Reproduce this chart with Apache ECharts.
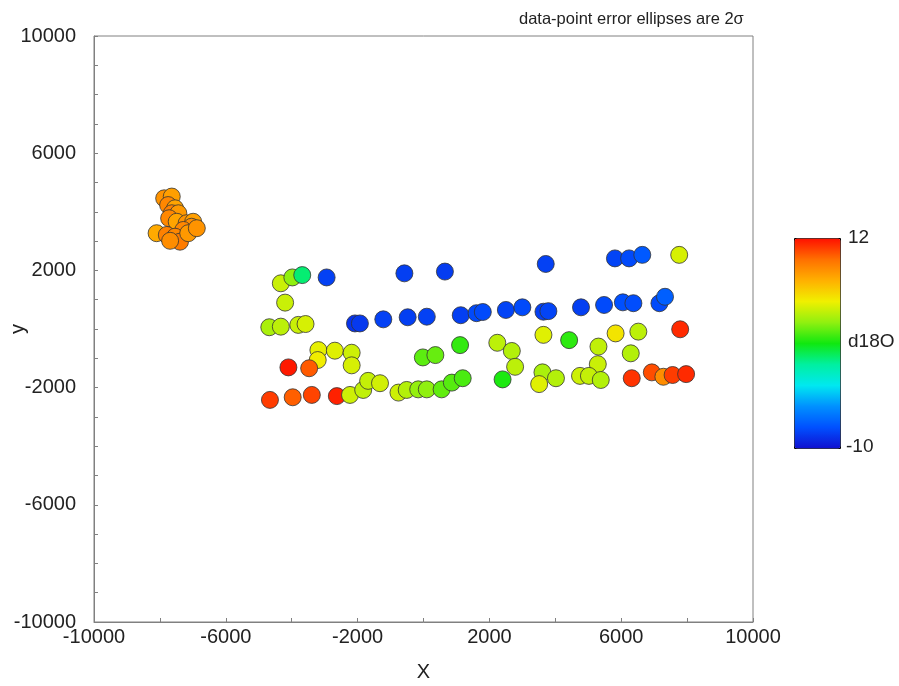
<!DOCTYPE html>
<html>
<head>
<meta charset="utf-8">
<script src="https://cdn.jsdelivr.net/npm/echarts@6/dist/echarts.min.js"></script>
<style>
  html, body { margin: 0; padding: 0; background: #fff; }
  #chart { width: 899px; height: 686px; }
</style>
</head>
<body>
<div id="chart"></div>
<script>
// x positions of the samples
var xVals = [
    -7870, -7640, -7750, -7540, -7640, -7440, -7720, -7490, -7190, -6990,
    -7040, -7290, -8100, -7790, -7540, -7390, -7690, -7140, -6880,
    -2940, -580, 650, 3710, 5810, 6240, 6640,
    -2080, -1930, -1220, -480, 100, 1130, 1610, 1800, 2500, 3000,
    3640, 3790, 4780, 5480, 6050, 6370, 7160, 7330,
    -4330, -3980, -3680, -4200, -4680, -4330, -3800, -3580, 7760,
    -3190, -2690, -2180, -3210, -2180, -4100, -3470, -20, 360, 1110,
    2240, 2680, 2780, 3640, 4420, 5830, 6520, 7790, 5310, 6290, 5290,
    -4660, -3970, -3390, -2630, -2230, -1830, -1680, -1320, -760, -510,
    -160, 100, 550, 860, 1190, 2400, 3610, 3510, 4020, 4750,
    5020, 5380, 6320, 6930, 7280, 7560, 7970
];
// y positions of the samples
var yVals = [
    4460, 4520, 4230, 4120, 3950, 3950, 3780, 3660, 3610, 3660,
    3490, 3380, 3270, 3210, 3150, 2980, 3010, 3270, 3440,
    1760, 1900, 1960, 2220, 2410, 2410, 2530,
    190, 190, 330, 400, 420, 470, 540, 580, 650, 740,
    590, 610, 740, 820, 910, 880, 880, 1100,
    1560, 1760, 1840, 900, 60, 80, 140, 170, 2530,
    -720, -740, -810, -1060, -1240, -1310, -1340, -970, -890, -550,
    -470, -750, -1290, -200, -380, -150, -90, -10, -600, -830, -1200,
    -2420, -2330, -2250, -2290, -2250, -2080, -1770, -1850, -2170, -2080,
    -2060, -2060, -2060, -1830, -1680, -1720, -1480, -1880, -1680, -1600,
    -1600, -1740, -1680, -1480, -1630, -1570, -1540
];
// d18O of the samples
var d18O = [
    8.6, 8.2, 9.0, 8.0, 9.2, 8.4, 9.0, 8.0, 8.6, 8.2,
    8.8, 9.0, 7.8, 9.2, 9.0, 9.4, 8.8, 8.4, 8.6,
    -8.3, -8.4, -8.5, -8.3, -8.2, -8.0, -7.5,
    -8.8, -8.6, -8.3, -8.4, -8.3, -8.4, -8.0, -8.0, -8.2, -8.0,
    -8.4, -8.2, -8.4, -8.0, -7.8, -7.9, -8.0, -7.3,
    4.5, 3.2, -0.5, 4.5, 3.8, 4.2, 4.5, 4.8, 4.8,
    5.2, 5.0, 4.6, 5.5, 4.8, 11.8, 10.3, 2.3, 2.5, 1.6,
    4.2, 4.0, 4.2, 5.0, 1.5, 5.8, 4.2, 11.4, 4.3, 4.0, 4.5,
    11.0, 10.2, 10.8, 11.6, 4.6, 4.3, 4.4, 4.7, 4.6, 4.0,
    3.3, 3.2, 2.4, 2.2, 2.0, 1.2, 3.8, 5.0, 4.0, 4.6,
    4.4, 4.0, 11.2, 10.6, 8.8, 11.0, 11.4
];
var colorStops = ['#1010d0', '#0050ff', '#0090ff', '#00e8f0', '#00f0a0', '#10e810',
                  '#90f010', '#f0f000', '#ffb000', '#ff7000', '#ff1000'];

(function(){
    var points = xVals.map(function (x, i) { return [x, yVals[i], d18O[i]]; });

    var onMajor = function (v) { return (v + 10000) % 4000 === 0 ? String(v) : ''; };
    var font = 'Liberation Sans, Arial, sans-serif';
    var labelFont = { color: '#222', fontSize: 20, fontFamily: font };

    var option = {
        animation: false,
        backgroundColor: '#fff',
        title: {
            text: 'data-point error ellipses are 2\u03c3',
            left: 514,
            top: 6,
            textStyle: { fontSize: 16.5, fontWeight: 'normal', color: '#222', fontFamily: font }
        },
        grid: {
            left: 94, top: 36, width: 659, height: 586,
            outerBoundsMode: 'none',
            containLabel: false,
            show: true, borderColor: '#808080', borderWidth: 1
        },
        xAxis: {
            type: 'value', min: -10000, max: 10000, interval: 2000,
            name: 'X', nameLocation: 'middle', nameGap: 40,
            nameMoveOverlap: false,
            nameTextStyle: { fontSize: 20, color: '#222', fontFamily: font },
            axisLine: { onZero: false, lineStyle: { color: '#808080' } },
            axisTick: { inside: true, length: 4, lineStyle: { color: '#808080' } },
            axisLabel: Object.assign({ formatter: onMajor, margin: 5 }, labelFont),
            splitLine: { show: false }
        },
        yAxis: {
            type: 'value', min: -10000, max: 10000, interval: 1000,
            name: 'y', nameLocation: 'middle', nameGap: 66,
            nameMoveOverlap: false,
            nameTextStyle: { fontSize: 20, color: '#222', fontFamily: font },
            axisLine: { onZero: false, lineStyle: { color: '#808080' } },
            axisTick: { inside: true, length: 4, lineStyle: { color: '#808080' } },
            axisLabel: Object.assign({ formatter: onMajor, margin: 18 }, labelFont),
            splitLine: { show: false }
        },
        visualMap: {
            type: 'continuous',
            min: -10, max: 12,
            dimension: 2,
            calculable: false,
            left: 794, top: 238,
            itemWidth: 46, itemHeight: 210,
            padding: 0,
            borderColor: '#000', borderWidth: 1,
            text: null,
            showLabel: false,
            inRange: { color: colorStops }
        },
        graphic: [
            { type: 'text', x: 848, y: 238, style: { text: '12', fill: '#222', fontSize: 19, fontFamily: font, verticalAlign: 'middle' } },
            { type: 'text', x: 848, y: 342, style: { text: 'd18O', fill: '#222', fontSize: 19, fontFamily: font, verticalAlign: 'middle' } },
            { type: 'text', x: 846, y: 447, style: { text: '-10', fill: '#222', fontSize: 19, fontFamily: font, verticalAlign: 'middle' } }
        ],
        series: [{
            type: 'scatter',
            data: points,
            symbol: 'circle',
            symbolSize: 17,
            itemStyle: { borderColor: '#333', borderWidth: 0.8, opacity: 1 }
        }]
    };

    var myChart = echarts.init(document.getElementById('chart'));
    myChart.setOption(option);
})()
</script>
</body>
</html>
